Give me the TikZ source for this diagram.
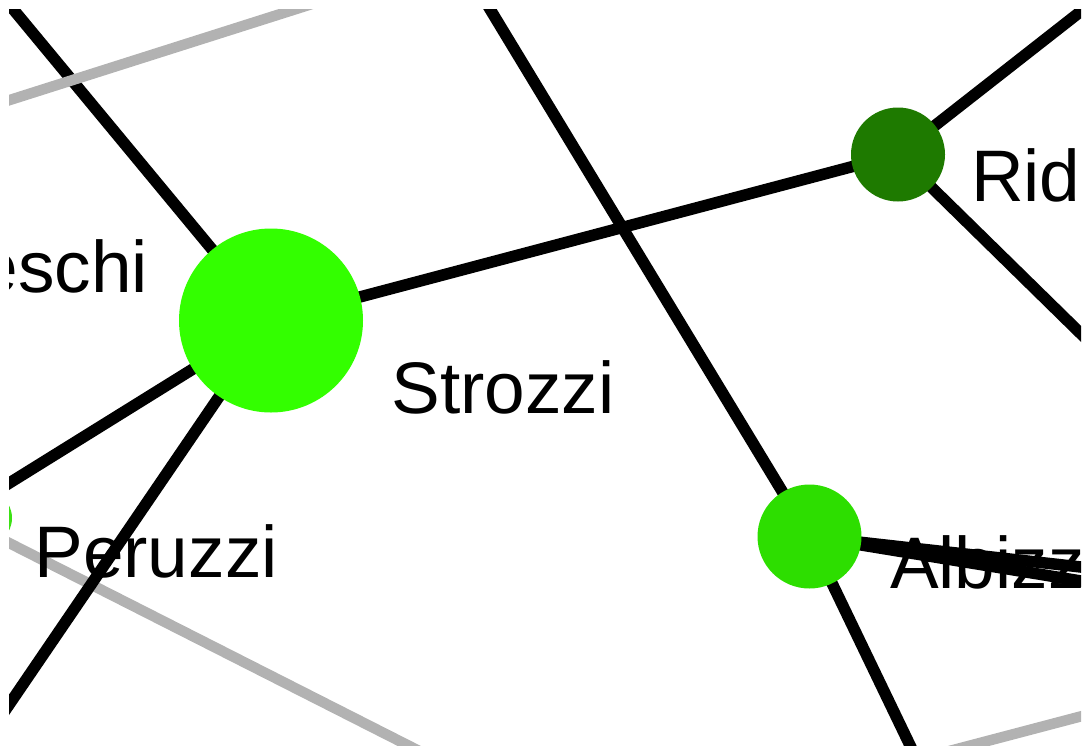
\documentclass[tikz,border=0pt]{standalone}
\usepackage{fontspec}
\setmainfont{Liberation Sans}
\definecolor{strozzigreen}{RGB}{51,255,0}
\definecolor{albizzigreen}{RGB}{45,222,0}
\definecolor{ridolfigreen}{RGB}{30,122,0}
\definecolor{peruzzigreen}{RGB}{60,225,20}
\definecolor{edgegray}{RGB}{178,178,178}
\begin{document}
\begin{tikzpicture}[x=1pt,y=-1pt,
  blackedge/.style={line width=11.5pt, draw=black},
  grayedge/.style={line width=10.5pt, draw=edgegray},
  famnode/.style={circle, inner sep=0pt, outer sep=0pt, draw=none},
  famlabel/.style={inner sep=0pt, outer sep=0pt, font=\fontsize{73}{80}\selectfont}]
\useasboundingbox (0,0) rectangle (1083,747);
\begin{scope}
\clip (9,9) rectangle (1081,745);
% node placeholders (named)
\node[famnode, minimum size=184pt] (strozzi) at (271,320.5) {};
\node[famnode, minimum size=94pt] (ridolfi) at (898,154.5) {};
\node[famnode, minimum size=104pt] (albizzi) at (809.5,536.5) {};
\node[famnode, minimum size=56pt] (peruzzi) at (-16,518) {};
% off-canvas end points
\coordinate (c1) at (-50,-67);
\coordinate (c3) at (-253,646);
\coordinate (c4) at (-120,894);
\coordinate (c5) at (426,-96.5);
\coordinate (c6) at (940,807.6);
\coordinate (c7) at (1200,580.4);
\coordinate (c8) at (1200,600.5);
\coordinate (c9) at (1200,-82);
\coordinate (c10) at (1200,450.5);
\coordinate (g1a) at (-50,119);
\coordinate (g1b) at (400,-24);
\coordinate (g2a) at (-50,513);
\coordinate (g2b) at (500,792);
\coordinate (g3a) at (900,764);
\coordinate (g3b) at (1200,685);
% edges
\draw[blackedge] (strozzi.center) -- (c1);
\draw[grayedge] (g1a) -- (g1b);
\draw[grayedge] (g2a) -- (g2b);
\draw[grayedge] (g3a) -- (g3b);
\draw[blackedge] (strozzi.center) -- (c4);
\draw[blackedge] (strozzi.center) -- (c3);
\draw[blackedge] (strozzi.center) -- (ridolfi.center);
\draw[blackedge] (albizzi.center) -- (c5);
\draw[blackedge] (albizzi.center) -- (c6);
\draw[blackedge] (ridolfi.center) -- (c9);
\draw[blackedge] (ridolfi.center) -- (c10);
% labels
\node[famlabel, anchor=base east] (lbllam) at (148,292) {eschi};
\node[famlabel, anchor=base west] (lblstr) at (391.6,413) {Strozzi};
\node[famlabel, anchor=base west] (lblper) at (34.4,577) {Peruzzi};
\node[famlabel, anchor=base west] (lblrid) at (971,201.5) {Rid};
\node[famlabel, anchor=base west] (lblalb) at (890,588) {Albizz};
\draw[blackedge] (albizzi.center) -- (c7);
\draw[blackedge] (albizzi.center) -- (c8);
% node discs
\fill[strozzigreen] (strozzi.center) circle (92);
\fill[ridolfigreen] (ridolfi.center) circle (47);
\fill[albizzigreen] (albizzi.center) circle (52);
\fill[peruzzigreen] (peruzzi.center) circle (28);
\end{scope}
\end{tikzpicture}
\end{document}
